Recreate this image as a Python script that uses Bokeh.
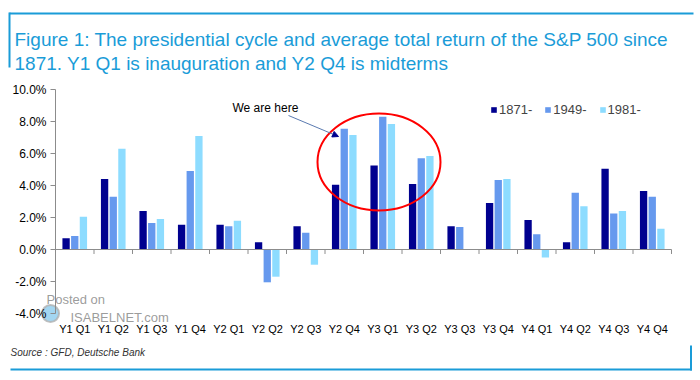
from bokeh.plotting import figure
from bokeh.models import (ColumnDataSource, Range1d, FixedTicker, PrintfTickFormatter,
                          Label, Arrow, NormalHead, Legend, LegendItem)
from bokeh.transform import dodge
from bokeh.embed import file_html
from bokeh.resources import INLINE

quarters = ["Y1 Q1", "Y1 Q2", "Y1 Q3", "Y1 Q4", "Y2 Q1", "Y2 Q2", "Y2 Q3", "Y2 Q4",
            "Y3 Q1", "Y3 Q2", "Y3 Q3", "Y3 Q4", "Y4 Q1", "Y4 Q2", "Y4 Q3", "Y4 Q4"]
s1871 = [0.7, 4.4, 2.4, 1.55, 1.55, 0.45, 1.45, 4.05, 5.25, 4.1, 1.45, 2.9, 1.85, 0.45, 5.05, 3.65]
s1949 = [0.85, 3.3, 1.65, 4.9, 1.45, -2.05, 1.05, 7.55, 8.3, 5.7, 1.4, 4.35, 0.95, 3.55, 2.25, 3.3]
s1981 = [2.05, 6.3, 1.9, 7.1, 1.8, -1.7, -0.95, 7.15, 7.85, 5.85, 0.0, 4.4, -0.5, 2.7, 2.4, 1.3]
series_labels = ["1871-", "1949-", "1981-"]
colors = ["#00008f", "#6699ee", "#8ddcff"]
y_ticks = [-4, -2, 0, 2, 4, 6, 8, 10]
y_min, y_max = -4, 10

title_line1 = "Figure 1: The presidential cycle and average total return of the S&P 500 since"
title_line2 = "1871. Y1 Q1 is inauguration and Y2 Q4 is midterms"
source_text = "Source : GFD, Deutsche Bank"
note_text = "We are here"

BLUE = "#1a9cd8"
FONT = "Liberation Sans"
W, H = 694, 374
# layout geometry (pixels on the canvas)
PX_LEFT, PX_CAT = 55, 38.5      # category axis starts at x=55, 38.5 px per category
PY_ZERO, PY_PER = 249, 16       # 0% at y=249, 16 px per percentage point


def px2x(px):
    return (px - PX_LEFT) / PX_CAT


def py2y(py):
    return (PY_ZERO - py) / PY_PER


n = len(quarters)
centers = [i + 0.5 for i in range(n)]
src = ColumnDataSource(dict(x=centers, a=s1871, b=s1949, c=s1981))

p = figure(x_range=Range1d(px2x(0), px2x(W)), y_range=Range1d(py2y(H), py2y(0)),
           width=W, height=H, output_backend="svg", toolbar_location=None,
           min_border=0)
p.outline_line_color = None
p.xgrid.grid_line_color = None
p.ygrid.grid_line_color = None

renderers = []
for col, off, colr in zip(["a", "b", "c"], [-0.225, 0.0, 0.225], colors):
    r = p.vbar(x=dodge("x", off), top=col, bottom=0, width=0.19,
               source=src, fill_color=colr, line_color=None)
    renderers.append(r)

# zero line with ticks at category boundaries
p.segment(x0=[0], x1=[n], y0=[0], y1=[0], line_color="#8c8c8c", line_width=1)
bounds = list(range(1, n + 1))
p.segment(x0=bounds, x1=bounds, y0=[0] * n, y1=[-0.28] * n,
          line_color="#8c8c8c", line_width=1)

# y axis
p.yaxis.fixed_location = 0
p.yaxis.bounds = (y_min, y_max)
p.yaxis.ticker = FixedTicker(ticks=y_ticks)
p.yaxis.formatter = PrintfTickFormatter(format="%.1f%%")
p.yaxis.axis_line_color = "#8c8c8c"
p.yaxis.major_tick_line_color = "#8c8c8c"
p.yaxis.major_tick_out = 5
p.yaxis.major_tick_in = 0
p.yaxis.minor_tick_line_color = None
p.yaxis.major_label_text_font = FONT
p.yaxis.major_label_text_font_size = "12px"
p.yaxis.major_label_text_color = "#000000"
p.yaxis.major_label_standoff = 4

# x axis (category labels)
p.xaxis.fixed_location = y_min
p.xaxis.ticker = FixedTicker(ticks=centers)
p.xaxis.major_label_overrides = {c: q for c, q in zip(centers, quarters)}
p.xaxis.axis_line_color = None
p.xaxis.major_tick_line_color = None
p.xaxis.minor_tick_line_color = None
p.xaxis.major_label_text_font = FONT
p.xaxis.major_label_text_font_size = "11px"
p.xaxis.major_label_text_color = "#000000"
p.xaxis.major_label_standoff = 3

# legend
legend = Legend(items=[LegendItem(label=l, renderers=[r]) for l, r in zip(series_labels, renderers)],
                orientation="horizontal", location=(490, H - 117), padding=0, margin=0,
                glyph_width=7, glyph_height=7, label_height=14, label_standoff=2, spacing=12,
                label_text_font=FONT, label_text_font_size="13px",
                background_fill_alpha=0, border_line_color=None)
p.add_layout(legend)

# highlight ellipse
p.ellipse(x=px2x(378.5), y=py2y(161.5), width=123 / PX_CAT, height=97 / PY_PER,
          fill_color=None, line_color="#ff0000", line_width=2)

# annotation arrow + text
p.add_layout(Arrow(x_start=px2x(288), y_start=py2y(115), x_end=px2x(338), y_end=py2y(136),
                   line_color="#5a7ab0", line_width=1,
                   end=NormalHead(size=6, fill_color="#00008f", line_color="#00008f")))
p.add_layout(Label(x=px2x(232), y=py2y(107.5), text=note_text, text_font=FONT,
                   text_font_size="12px", text_baseline="middle", text_color="#000000"))

# title
p.add_layout(Label(x=px2x(14), y=py2y(38.5), text=title_line1, text_font=FONT,
                   text_font_size="19px", text_color=BLUE, text_baseline="alphabetic"))
p.add_layout(Label(x=px2x(14), y=py2y(62.5), text=title_line2, text_font=FONT,
                   text_font_size="19px", text_color=BLUE, text_baseline="alphabetic"))

# source
p.add_layout(Label(x=px2x(10), y=py2y(352), text=source_text, text_font=FONT,
                   text_font_size="10px", text_font_style="italic", text_color="#333333",
                   text_baseline="middle"))

# watermark
p.scatter(x=[px2x(50)], y=[py2y(313)], size=17, marker="circle", fill_color="#58b4e6",
          fill_alpha=0.55, line_color="#b0b0b0", line_width=2, line_alpha=0.8)
p.add_layout(Label(x=px2x(46), y=py2y(299), text="Posted on", text_font=FONT,
                   text_font_size="13px", text_color="#8a8a8a", text_baseline="middle",
                   text_alpha=0.85))
p.add_layout(Label(x=px2x(70), y=py2y(317), text="ISABELNET.com", text_font=FONT,
                   text_font_size="13px", text_color="#8a8a8a", text_baseline="middle",
                   text_alpha=0.85))

# frame border pieces (top-left and bottom-right brackets)
p.segment(x0=[px2x(9), px2x(9), px2x(10), px2x(690.5)],
          x1=[px2x(693), px2x(9), px2x(691.5), px2x(690.5)],
          y0=[py2y(13), py2y(12), py2y(369), py2y(345)],
          y1=[py2y(13), py2y(67), py2y(369), py2y(370)],
          line_color=BLUE, line_width=2)

open("out.html", "w").write(file_html(p, INLINE))
